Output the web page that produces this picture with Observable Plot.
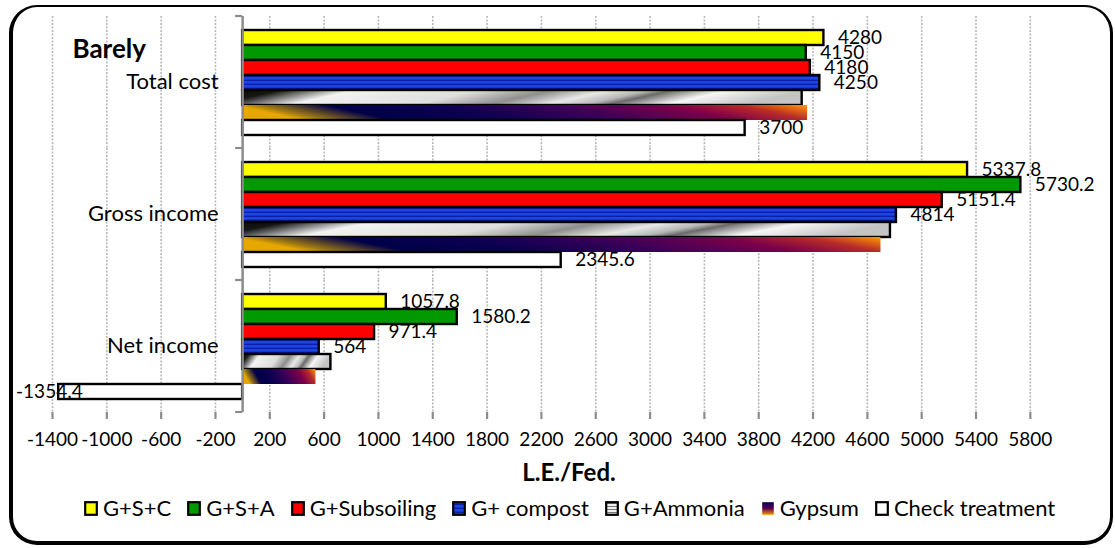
<!DOCTYPE html>
<html>
<head>
<meta charset="utf-8">
<script src="https://cdn.jsdelivr.net/npm/d3@7"></script>
<script src="https://cdn.jsdelivr.net/npm/@observablehq/plot@0.6"></script>
<style>
  html, body { margin: 0; padding: 0; background: #fff; }
  body { width: 1115px; height: 548px; position: relative; overflow: hidden; font-family: Lato, "Open Sans", sans-serif; }
  #border { position: absolute; left: 9px; top: 5px; width: 1104px; height: 540px; box-sizing: border-box;
            border: solid #000; border-width: 2px 3px 4px 4px; border-radius: 28px; }
  #chart { position: absolute; left: 0; top: 0; }
  #legend { position: absolute; left: 84px; top: 495px; display: flex; align-items: center; font-size: 22px; line-height: 26px; color: #000; white-space: nowrap; }
  #legend .item { display: flex; align-items: center; margin-right: 16px; }
  #legend svg { margin-right: 5px; }
</style>
</head>
<body>
<svg width="0" height="0" style="position:absolute">
  <defs>
    <pattern id="fillCompost" patternUnits="userSpaceOnUse" width="6" height="4">
      <rect width="6" height="4" fill="#1f44e4"></rect>
      <rect y="2.6" width="6" height="1.4" fill="#0a1ea6"></rect>
    </pattern>
    <linearGradient id="fillAmmonia" x1="0" y1="0" x2="1" y2="0.12">
      <stop offset="0" stop-color="#0a0a0a"></stop>
      <stop offset="0.07" stop-color="#161616"></stop>
      <stop offset="0.2" stop-color="#f2f2f2"></stop>
      <stop offset="0.42" stop-color="#dedede"></stop>
      <stop offset="0.55" stop-color="#8e8e8e"></stop>
      <stop offset="0.65" stop-color="#e8e8e8"></stop>
      <stop offset="0.72" stop-color="#b8b8b8"></stop>
      <stop offset="0.76" stop-color="#6a6a6a"></stop>
      <stop offset="0.86" stop-color="#f6f6f6"></stop>
      <stop offset="1" stop-color="#c4c4c4"></stop>
    </linearGradient>
    <linearGradient id="fillGypsum" x1="0" y1="0.12" x2="1" y2="0">
      <stop offset="0" stop-color="#e6a800"></stop>
      <stop offset="0.04" stop-color="#a07a10"></stop>
      <stop offset="0.16" stop-color="#000048"></stop>
      <stop offset="0.35" stop-color="#0c0050"></stop>
      <stop offset="0.55" stop-color="#3a0058"></stop>
      <stop offset="0.75" stop-color="#7a004a"></stop>
      <stop offset="0.88" stop-color="#b52a2a"></stop>
      <stop offset="1" stop-color="#ff9a00"></stop>
    </linearGradient>
    <pattern id="swatchAmmonia" patternUnits="userSpaceOnUse" width="4" height="3">
      <rect width="4" height="3" fill="#f0f0f0"></rect>
      <rect y="2" width="4" height="1" fill="#777"></rect>
    </pattern>
    <linearGradient id="swatchGypsum" x1="0" y1="0" x2="0" y2="1">
      <stop offset="0" stop-color="#000058"></stop>
      <stop offset="0.5" stop-color="#5a0050"></stop>
      <stop offset="1" stop-color="#ff9a00"></stop>
    </linearGradient>
  </defs>
</svg>
<div id="border"></div>
<div id="chart"></div>
<div id="legend"></div>
<script>
// ---- data ----
const chartTitle = "Barely";
const xLabel = "L.E./Fed.";
const categories = ["Total cost", "Gross income", "Net income"];
const series = ["G+S+C", "G+S+A", "G+Subsoiling", "G+ compost", "G+Ammonia", "Gypsum", "Check treatment"];
const totalCost   = [4280, 4150, 4180, 4250, 4120, 4160, 3700];
const grossIncome = [5337.8, 5730.2, 5151.4, 4814, 4770, 4700, 2345.6];
const netIncome   = [1057.8, 1580.2, 971.4, 564, 650, 540, -1354.4];
const showLabel   = [true, true, true, true, false, false, true];
const xTicks = [-1400, -1000, -600, -200, 200, 600, 1000, 1400, 1800, 2200, 2600, 3000, 3400, 3800, 4200, 4600, 5000, 5400, 5800];
const xDomain = [-1400, 6000];

// ---- styles ----
const seriesFill = {
  "G+S+C": "#ffff00", "G+S+A": "#009a00", "G+Subsoiling": "#ff0000",
  "G+ compost": "url(#fillCompost)", "G+Ammonia": "url(#fillAmmonia)",
  "Gypsum": "url(#fillGypsum)", "Check treatment": "#ffffff"
};
const seriesStroke = {
  "G+S+C": "#000", "G+S+A": "#000", "G+Subsoiling": "#000", "G+ compost": "#000",
  "G+Ammonia": "#000", "Gypsum": "none", "Check treatment": "#000"
};
const legendFill = Object.assign({}, seriesFill, {"G+Ammonia": "url(#swatchAmmonia)", "Gypsum": "url(#swatchGypsum)"});

const valuesByCategory = [totalCost, grossIncome, netIncome];
const rows = categories.flatMap((c, i) => series.map((s, j) => ({
  category: c, series: s, value: valuesByCategory[i][j], labelled: showLabel[j]
})));

const chart = Plot.plot({
  width: 1115,
  height: 490,
  marginTop: 15,
  marginBottom: 77,
  marginLeft: 52,
  marginRight: 58,
  style: {fontFamily: "Lato, 'Open Sans', sans-serif", fontSize: "19px", background: "transparent", overflow: "visible", color: "#000"},
  x: {domain: xDomain, label: null},
  y: {domain: series, paddingInner: 0, paddingOuter: 0.72, axis: null},
  fy: {domain: categories, padding: 0, axis: null},
  color: {type: "identity"},
  marks: [
    Plot.gridX({ticks: xTicks, stroke: "#b8b8b8", strokeOpacity: 1, strokeWidth: 1.6, strokeDasharray: "2,1.5"}),
    Plot.barX(rows, {
      fy: "category", y: "series", x: "value",
      fill: d => seriesFill[d.series], stroke: d => seriesStroke[d.series],
      strokeWidth: 2.4, strokeLinejoin: "miter"
    }),
    Plot.ruleX([0], {stroke: "#8c8c8c", strokeWidth: 2.5}),
    Plot.axisX({ticks: xTicks, tickFormat: d => String(d), tickSize: 7, tickPadding: 13,
                stroke: "#8c8c8c", strokeWidth: 2.2, fill: "#000", line: true, label: null}),
    Plot.text(rows.filter(d => d.labelled && d.value >= 0), {
      fy: "category", y: "series", x: "value", text: d => String(d.value),
      dx: 14, textAnchor: "start", fill: "#000"
    }),
    Plot.text(rows.filter(d => d.labelled && d.value < 0), {
      fy: "category", y: "series", x: "value", text: d => String(d.value),
      dx: 24, textAnchor: "end", fill: "#000"
    }),
    Plot.text(categories, {fy: d => d, x: d => 0, text: d => d, dx: -24, dy: -1, textAnchor: "end", fontSize: 22, fill: "#000"}),
    Plot.text([{category: categories[0]}], {
      fy: "category", frameAnchor: "top-left", text: () => chartTitle,
      dx: 20, dy: 33, lineAnchor: "middle", textAnchor: "start", fontWeight: "bold", fontSize: 26, fill: "#000"
    }),
    Plot.text([{category: categories[categories.length - 1]}], {
      fy: "category", frameAnchor: "bottom", text: () => xLabel,
      dx: 14, dy: 61, lineAnchor: "middle", fontWeight: "bold", fontSize: 24, fill: "#000"
    })
  ]
});

// boundary ticks on the category axis, from the library's scales
const fyScale = chart.scale("fy");
const xScale = chart.scale("x");
const x0 = xScale.apply(0);
const svg = d3.select(chart);
const bounds = new Set();
fyScale.domain.forEach(c => { const t = fyScale.apply(c); bounds.add(t); bounds.add(t + fyScale.bandwidth); });
const gTicks = svg.append("g").attr("stroke", "#8c8c8c").attr("stroke-width", 2.2);
[...bounds].forEach(b => gTicks.append("line").attr("x1", x0 - 7).attr("x2", x0).attr("y1", b).attr("y2", b));

document.getElementById("chart").appendChild(chart);

// legend
const legend = d3.select("#legend");
series.forEach(s => {
  const item = legend.append("div").attr("class", "item");
  const sw = item.append("svg").attr("width", 14).attr("height", 15);
  sw.append("rect").attr("x", 1.2).attr("y", 1.2).attr("width", 11.6).attr("height", 12.6)
    .attr("fill", legendFill[s]).attr("stroke", seriesStroke[s] === "none" ? "none" : "#000").attr("stroke-width", 2.2);
  item.append("span").text(s);
});
</script>
</body>
</html>
